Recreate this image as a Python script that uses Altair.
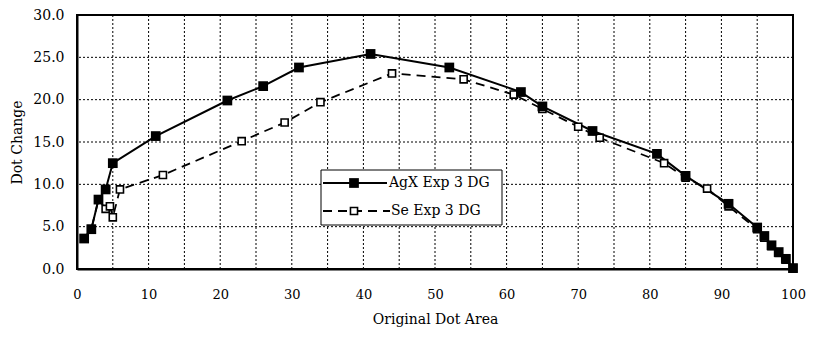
import altair as alt
import pandas as pd

# AgX Exp 3 DG (filled squares)
agx_x = [1, 2, 3, 4, 5, 11, 21, 26, 31, 41, 52, 62, 65, 72, 81, 85, 91, 95, 96, 97, 98, 99, 100]
agx_y = [3.6, 4.7, 8.2, 9.4, 12.5, 15.7, 19.9, 21.6, 23.8, 25.4, 23.8, 20.9, 19.2, 16.3, 13.6, 11.0, 7.7, 4.9, 3.9, 2.8, 2.0, 1.2, 0.1]

# Se Exp 3 DG (open squares)
se_x = [1, 2, 3, 4, 4.6, 5, 6, 12, 23, 29, 34, 44, 54, 61, 65, 70, 73, 82, 85, 88, 91, 95, 96, 97, 98, 99, 100]
se_y = [3.6, 4.7, 8.2, 7.1, 7.4, 6.1, 9.4, 11.1, 15.1, 17.3, 19.7, 23.1, 22.4, 20.6, 18.9, 16.8, 15.5, 12.5, 10.8, 9.5, 7.4, 4.7, 3.7, 2.7, 1.9, 1.1, 0.1]

series_names = ["AgX Exp 3 DG", "Se Exp 3 DG"]
x_ticks = list(range(0, 101, 5))
y_ticks = [0, 5, 10, 15, 20, 25, 30]

FONT = "DejaVu Serif"
W, H = 716, 254

agx = pd.DataFrame({"x": agx_x, "y": agx_y, "i": range(len(agx_x))})
se = pd.DataFrame({"x": se_x, "y": se_y, "i": range(len(se_x))})
gx = pd.DataFrame({"x": x_ticks[1:-1]})
gy = pd.DataFrame({"y": y_ticks[1:-1]})

xs = alt.Scale(domain=[0, 100], nice=False)
ys = alt.Scale(domain=[0, 30], nice=False)

xenc = alt.X("x:Q", scale=xs, axis=alt.Axis(
    values=x_ticks, title="Original Dot Area", labelFont=FONT, titleFont=FONT,
    labelFontSize=13, titleFontSize=14, titleFontWeight="normal", labelColor="black",
    titleColor="black", ticks=False, labelPadding=19, titlePadding=11,
    domainColor="black", domainWidth=2, grid=False, labelFlush=False))
yenc = alt.Y("y:Q", scale=ys, axis=alt.Axis(
    values=y_ticks, format=".1f", title="Dot Change", labelFont=FONT, titleFont=FONT,
    labelFontSize=14, titleFontSize=14, titleFontWeight="normal", labelColor="black",
    titleColor="black", ticks=False, labelPadding=13, titlePadding=8,
    domainColor="black", domainWidth=2, grid=False, labelFlush=False))

grid_v = alt.Chart(gx).mark_rule(color="black", strokeWidth=1, strokeDash=[2, 2]).encode(
    x=xenc)
grid_h = alt.Chart(gy).mark_rule(color="black", strokeWidth=1, strokeDash=[2, 2]).encode(
    y=yenc)

agx_line = alt.Chart(agx).mark_line(color="black", strokeWidth=2).encode(
    x="x:Q", y="y:Q", order="i:Q")
agx_pts = alt.Chart(agx).mark_point(shape="square", filled=True, color="black",
                                    size=95, opacity=1).encode(x="x:Q", y="y:Q")

se_line = alt.Chart(se).mark_line(color="black", strokeWidth=1.8,
                                  strokeDash=[9, 6]).encode(x="x:Q", y="y:Q", order="i:Q")
se_pts = alt.Chart(se).mark_point(shape="square", filled=True, fill="white",
                                  stroke="black", strokeWidth=1.6, size=50,
                                  opacity=1).encode(x="x:Q", y="y:Q")

# legend (drawn manually)
leg = pd.DataFrame({"name": series_names})
box = alt.Chart(leg.head(1)).mark_rect(fill="white", stroke="black", strokeWidth=1).encode(
    x=alt.value(244), x2=alt.value(425), y=alt.value(155), y2=alt.value(210))
l1 = alt.Chart(leg.head(1)).mark_rule(color="black", strokeWidth=2).encode(
    x=alt.value(246), x2=alt.value(310), y=alt.value(168))
p1 = alt.Chart(leg.head(1)).mark_point(shape="square", filled=True, color="black",
                                       size=95, opacity=1).encode(
    x=alt.value(277), y=alt.value(168))
t1 = alt.Chart(leg.head(1)).mark_text(align="left", baseline="middle", font=FONT,
                                      fontSize=14, color="black").encode(
    x=alt.value(312), y=alt.value(168), text="name:N")
l2 = alt.Chart(leg.tail(1)).mark_rule(color="black", strokeWidth=1.8,
                                      strokeDash=[9, 6]).encode(
    x=alt.value(246), x2=alt.value(313), y=alt.value(196))
p2 = alt.Chart(leg.tail(1)).mark_point(shape="square", filled=True, fill="white",
                                       stroke="black", strokeWidth=1.6, size=50,
                                       opacity=1).encode(
    x=alt.value(277), y=alt.value(196))
t2 = alt.Chart(leg.tail(1)).mark_text(align="left", baseline="middle", font=FONT,
                                      fontSize=14, color="black").encode(
    x=alt.value(314), y=alt.value(196), text="name:N")

chart = alt.layer(
    grid_v, grid_h, agx_line, se_line, se_pts, agx_pts, box, l1, p1, t1, l2, p2, t2
).properties(
    width=W, height=H,
    autosize=alt.AutoSizeParams(type="none"),
    padding={"left": 69, "top": 7, "right": 13, "bottom": 65},
    background="white",
).configure_view(stroke="black", strokeWidth=2)

chart.save("out.html", embed_options={"renderer": "svg", "actions": False})
